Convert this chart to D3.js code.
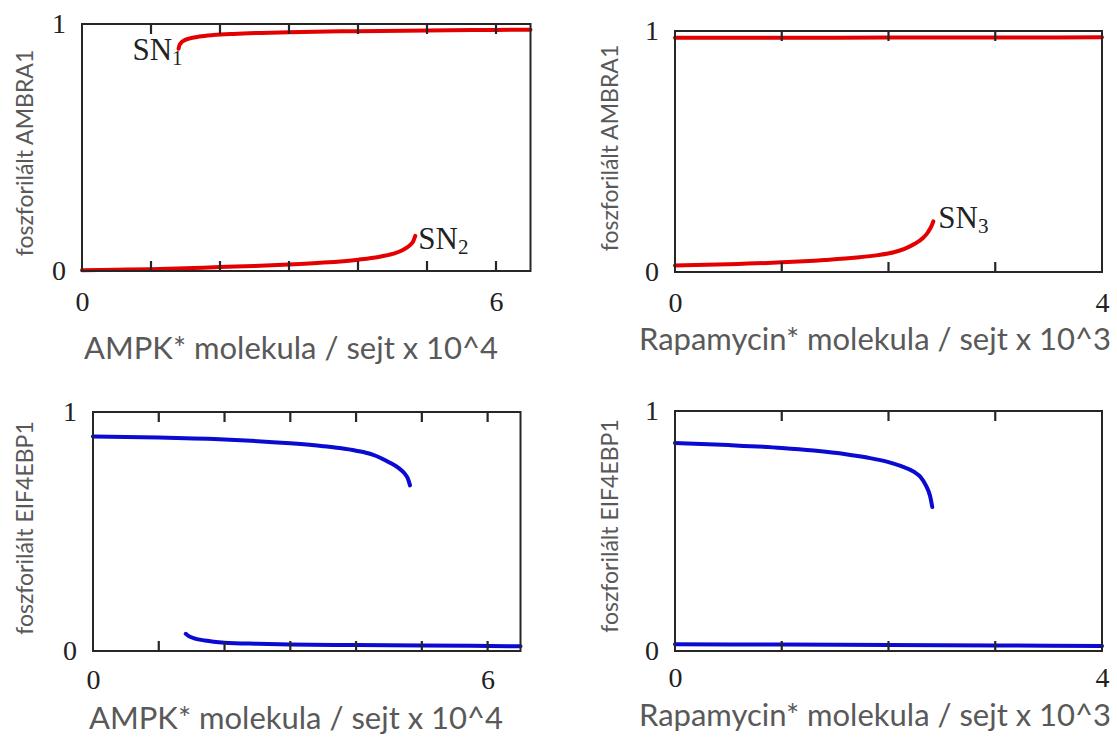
<!DOCTYPE html>
<html lang="hu">
    <head>
        <meta charset="utf-8">
        <script src="https://d3js.org/d3.v7.min.js"></script>
        <title>AMBRA1 / EIF4EBP1 bistabilitás</title>
        <style>
            body { margin: 0; background: #fff; }
        </style>
    </head>

    <body>
        <div id="plot-div"></div>
        <script>
            const width = 1117
            const height = 740

            // AMPK* felső ág (AMBRA1)
            const ampkHighX = [1.40, 1.41, 1.43, 1.47, 1.55, 1.7, 1.9, 2.2, 2.6, 3.0, 4.0, 5.0, 6.0, 6.5]
            const ambraHighY = [0.900, 0.912, 0.922, 0.932, 0.941, 0.949, 0.955, 0.960, 0.964, 0.967, 0.971, 0.974, 0.976, 0.977]
            // AMPK* alsó ág (AMBRA1)
            const ampkLowX = [0, 0.5, 1, 1.5, 2, 2.5, 3, 3.5, 4, 4.3, 4.5, 4.65, 4.75, 4.8, 4.83]
            const ambraLowY = [0.003, 0.005, 0.007, 0.011, 0.016, 0.020, 0.026, 0.034, 0.046, 0.057, 0.069, 0.085, 0.104, 0.120, 0.142]

            // Rapamycin* (AMBRA1)
            const rapaHighX = [0, 1, 2, 3, 4]
            const ambraRapaHighY = [0.972, 0.972, 0.973, 0.973, 0.974]
            const rapaLowX = [0, 0.5, 1, 1.4, 1.7, 1.9, 2.05, 2.15, 2.25, 2.32, 2.37, 2.40, 2.42]
            const ambraRapaLowY = [0.027, 0.032, 0.040, 0.050, 0.060, 0.070, 0.082, 0.096, 0.118, 0.140, 0.165, 0.188, 0.210]

            // AMPK* (EIF4EBP1)
            const ampkEifHighX = [0, 1, 2, 3, 3.5, 3.75, 4.0, 4.25, 4.5, 4.65, 4.74, 4.79, 4.82]
            const eifHighY = [0.898, 0.893, 0.885, 0.869, 0.857, 0.849, 0.838, 0.822, 0.790, 0.765, 0.742, 0.720, 0.693]
            const ampkEifLowX = [1.41, 1.45, 1.55, 1.7, 2.0, 2.5, 3, 4, 5, 6.5]
            const eifLowY = [0.072, 0.063, 0.052, 0.044, 0.035, 0.030, 0.027, 0.025, 0.023, 0.020]

            // Rapamycin* (EIF4EBP1)
            const rapaEifHighX = [0, 0.5, 1, 1.3, 1.6, 1.8, 2.0, 2.12, 2.24, 2.3, 2.35, 2.39, 2.41]
            const eifRapaHighY = [0.867, 0.858, 0.846, 0.835, 0.820, 0.806, 0.787, 0.770, 0.746, 0.725, 0.690, 0.645, 0.600]
            const rapaEifLowX = [0, 1, 2, 3, 4]
            const eifRapaLowY = [0.028, 0.027, 0.025, 0.023, 0.021]

            // tengelyek
            const ampkTicks = [1, 2, 3, 4, 5, 6]
            const ampkTickLabels = [0, 6]
            const rapaTicks = [1, 2, 3]
            const rapaTickLabels = [0, 4]
            const yTickLabels = [0, 1]

            const ampkLabel = "AMPK* molekula / sejt x 10^4"
            const rapaLabel = "Rapamycin* molekula / sejt x 10^3"
            const ambraLabel = "foszforilált AMBRA1"
            const eifLabel = "foszforilált EIF4EBP1"

            const red = "#e40000"
            const blue = "#0a0ad2"
            const ink = "#262626"

            let zip = (xs, ys) => xs.map((x, i) => [x, ys[i]])

            let panels = [
                {
                    box: [82, 530.5, 24, 271], xMax: 6.5, ticks: ampkTicks, tickLabels: ampkTickLabels, pad: 20,
                    xLabel: ampkLabel, xLabelPos: [291, 359], yLabel: ambraLabel, yLabelPos: [24, 153],
                    color: red,
                    series: [zip(ampkHighX, ambraHighY), zip(ampkLowX, ambraLowY)],
                    notes: [
                        { text: "SN", sub: "1", at: [ampkHighX[0], ambraHighY[0]], dx: 4, dy: 11, anchor: "end" },
                        { text: "SN", sub: "2", at: [ampkLowX[ampkLowX.length - 1], ambraLowY[ambraLowY.length - 1]], dx: 3, dy: 13, anchor: "start" }
                    ]
                },
                {
                    box: [675, 1102, 31, 272], xMax: 4, ticks: rapaTicks, tickLabels: rapaTickLabels, pad: 20,
                    xLabel: rapaLabel, xLabelPos: [875, 350], yLabel: ambraLabel, yLabelPos: [609, 148],
                    color: red,
                    series: [zip(rapaHighX, ambraRapaHighY), zip(rapaLowX, ambraRapaLowY)],
                    notes: [
                        { text: "SN", sub: "3", at: [rapaLowX[rapaLowX.length - 1], ambraRapaLowY[ambraRapaLowY.length - 1]], dx: 5, dy: 7, anchor: "start" }
                    ]
                },
                {
                    box: [93, 520.5, 412, 651], xMax: 6.5, ticks: ampkTicks, tickLabels: ampkTickLabels, pad: 18,
                    xLabel: ampkLabel, xLabelPos: [296, 729], yLabel: eifLabel, yLabelPos: [24, 528],
                    color: blue,
                    series: [zip(ampkEifHighX, eifHighY), zip(ampkEifLowX, eifLowY)],
                    notes: []
                },
                {
                    box: [675, 1102, 411, 651], xMax: 4, ticks: rapaTicks, tickLabels: rapaTickLabels, pad: 16,
                    xLabel: rapaLabel, xLabelPos: [875, 726], yLabel: eifLabel, yLabelPos: [609, 526],
                    color: blue,
                    series: [zip(rapaEifHighX, eifRapaHighY), zip(rapaEifLowX, eifRapaLowY)],
                    notes: []
                }
            ]

            var svg = d3.select("#plot-div")
                .append("svg")
                .attr("width", width)
                .attr("height", height)
                .attr("viewBox", [0, 0, width, height])

            let render = (p) => {
                let [left, right, top, bottom] = p.box

                let xScale = d3.scaleLinear()
                    .domain([0, p.xMax])
                    .range([left, right])

                let yScale = d3.scaleLinear()
                    .domain([0, 1])
                    .range([bottom, top])

                let g = svg.append("g")

                // curves (drawn first so frame and ticks sit on top, like the original)
                let line = d3.line()
                    .x(d => xScale(d[0]))
                    .y(d => yScale(d[1]))
                    .curve(d3.curveMonotoneX)

                g.selectAll("path.branch")
                    .data(p.series)
                    .join("path")
                    .attr("class", "branch")
                    .attr("d", line)
                    .attr("fill", "none")
                    .attr("stroke", p.color)
                    .attr("stroke-width", 4)
                    .attr("stroke-linecap", "round")

                // inward ticks on top and bottom edges
                let tickLen = 10
                let tickPath = p.ticks.map(t => {
                    let x = xScale(t)
                    return `M${x},${bottom}V${bottom - tickLen}M${x},${top}V${top + tickLen}`
                }).join("")
                g.append("path")
                    .attr("d", tickPath)
                    .attr("fill", "none")
                    .attr("stroke", ink)
                    .attr("stroke-width", 2.2)

                // frame
                g.append("rect")
                    .attr("x", left)
                    .attr("y", top)
                    .attr("width", right - left)
                    .attr("height", bottom - top)
                    .attr("fill", "none")
                    .attr("stroke", ink)
                    .attr("stroke-width", 2)

                // tick labels
                g.append("g")
                    .attr("transform", `translate(0,${bottom})`)
                    .call(d3.axisBottom(xScale).tickValues(p.tickLabels).tickSize(0).tickPadding(p.pad).tickFormat(d3.format("d")))
                    .call((a) => a.select(".domain").remove())
                    .call((a) => a.selectAll("text")
                        .attr("font-family", "'Liberation Serif', serif")
                        .attr("font-size", 28)
                        .attr("fill", "#222"))
                g.append("g")
                    .attr("transform", `translate(${left},0)`)
                    .call(d3.axisLeft(yScale).tickValues(yTickLabels).tickSize(0).tickPadding(16).tickFormat(d3.format("d")))
                    .call((a) => a.select(".domain").remove())
                    .call((a) => a.selectAll("text")
                        .attr("font-family", "'Liberation Serif', serif")
                        .attr("font-size", 28)
                        .attr("fill", "#222"))

                // saddle node labels
                p.notes.forEach(n => {
                    let t = g.append("text")
                        .attr("x", xScale(n.at[0]) + n.dx)
                        .attr("y", yScale(n.at[1]) + n.dy)
                        .attr("text-anchor", n.anchor)
                        .attr("font-family", "'Liberation Serif', serif")
                        .attr("font-size", 31)
                        .attr("fill", "#222")
                    t.append("tspan").text(n.text)
                    t.append("tspan")
                        .attr("font-size", 21)
                        .attr("dy", 5)
                        .text(n.sub)
                })

                // axis titles
                g.append("text")
                    .attr("x", p.xLabelPos[0])
                    .attr("y", p.xLabelPos[1])
                    .attr("text-anchor", "middle")
                    .attr("font-family", "Lato, 'Open Sans', sans-serif")
                    .attr("font-size", 31)
                    .attr("fill", "#595959")
                    .text(p.xLabel)

                g.append("text")
                    .attr("transform", `translate(${p.yLabelPos[0]},${p.yLabelPos[1]}) rotate(-90)`)
                    .attr("text-anchor", "middle")
                    .attr("dominant-baseline", "central")
                    .attr("font-family", "Lato, 'Open Sans', sans-serif")
                    .attr("font-size", 23)
                    .attr("fill", "#595959")
                    .text(p.yLabel)
            }

            panels.forEach(render)
        </script>
    </body>
</html>
